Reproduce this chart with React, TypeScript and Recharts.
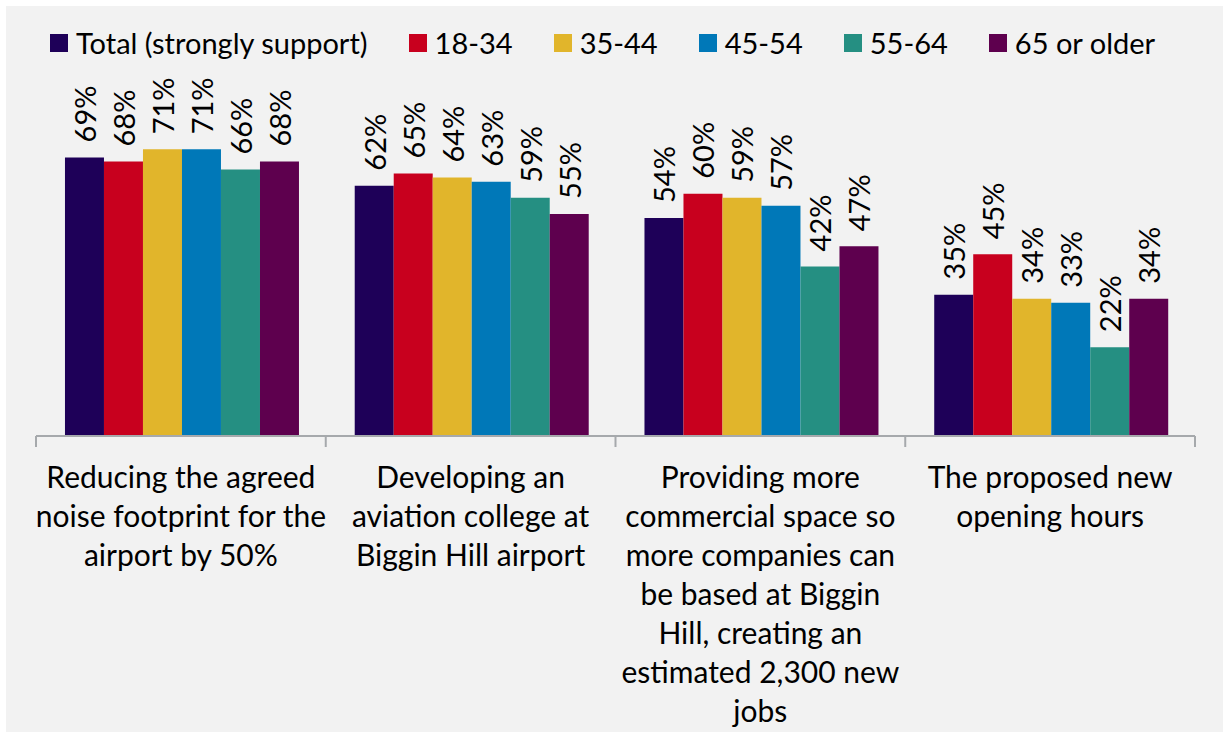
import React from 'react';
import { BarChart, Bar, XAxis, YAxis, Legend, LabelList } from 'recharts';

const categories = [
  'Reducing the agreed noise footprint for the airport by 50%',
  'Developing an aviation college at Biggin Hill airport',
  'Providing more commercial space so more companies can be based at Biggin Hill, creating an estimated 2,300 new jobs',
  'The proposed new opening hours',
];
const categoryLines = [
  ['Reducing the agreed', 'noise footprint for the', 'airport by 50%'],
  ['Developing an', 'aviation college at', 'Biggin Hill airport'],
  ['Providing more', 'commercial space so', 'more companies can', 'be based at Biggin', 'Hill, creating an', 'estimated 2,300 new', 'jobs'],
  ['The proposed new', 'opening hours'],
];
const seriesKeys = ['total', 'a1834', 'a3544', 'a4554', 'a5564', 'a65'];
const seriesNames = ['Total (strongly support)', '18-34', '35-44', '45-54', '55-64', '65 or older'];
const seriesColors = ['#1e0058', '#c8001e', '#e1b52b', '#0078b8', '#258f82', '#5e004e'];
const total = [69, 62, 54, 35];
const age1834 = [68, 65, 60, 45];
const age3544 = [71, 64, 59, 34];
const age4554 = [71, 63, 57, 33];
const age5564 = [66, 59, 42, 22];
const age65 = [68, 55, 47, 34];
const seriesValues = [total, age1834, age3544, age4554, age5564, age65];

const data = categories.map((c, i) => {
  const row: Record<string, any> = { name: c, idx: i };
  seriesKeys.forEach((k, s) => { row[k] = seriesValues[s][i]; });
  return row;
});

const FONT = 'Lato, Carlito, "Liberation Sans", sans-serif';
const AXIS_COLOR = '#a6a9ac';

const CategoryTick = (props: any) => {
  const { x, y, payload, index } = props;
  const half = payload && payload.offset ? payload.offset : 144.875;
  const lines = categoryLines[index] || [];
  return (
    <g>
      <line x1={x - half} y1={y} x2={x - half} y2={y + 11} stroke={AXIS_COLOR} strokeWidth={2} />
      {index === categories.length - 1 && (
        <line x1={x + half} y1={y} x2={x + half} y2={y + 11} stroke={AXIS_COLOR} strokeWidth={2} />
      )}
      <text x={x} y={y + 52} textAnchor="middle" fill="#000" fontSize={30} fontFamily={FONT}>
        {lines.map((l, i) => (
          <tspan key={i} x={x} dy={i === 0 ? 0 : 39}>{l}</tspan>
        ))}
      </text>
    </g>
  );
};

const RotLabel = (props: any) => {
  const { x, y, width, value } = props;
  const cx = x + width / 2;
  const ty = y - 15;
  return (
    <text
      x={cx}
      y={ty}
      transform={`rotate(-90, ${cx}, ${ty})`}
      textAnchor="start"
      dominantBaseline="central"
      fill="#000"
      fontSize={29}
      fontFamily={FONT}
    >
      {value}%
    </text>
  );
};

const LegendContent = () => (
  <div style={{ display: 'flex', alignItems: 'center', fontFamily: FONT, fontSize: 29, color: '#000', whiteSpace: 'nowrap' }}>
    {seriesNames.map((n, i) => (
      <div key={n} style={{ display: 'flex', alignItems: 'center', marginRight: i === seriesNames.length - 1 ? 0 : 41 }}>
        <div style={{ width: 18, height: 18, background: seriesColors[i], marginRight: 8 }} />
        <span style={{ lineHeight: '36px' }}>{n}</span>
      </div>
    ))}
  </div>
);

export default function App() {
  return (
    <div style={{ position: 'absolute', left: 6, top: 6, width: 1217, height: 726, background: '#f2f2f2' }}>
      <BarChart
        width={1217}
        height={726}
        data={data}
        margin={{ top: 71, right: 28, left: 30, bottom: 0 }}
        barCategoryGap="10%"
        barGap={0}
      >
        <XAxis
          dataKey="name"
          height={296}
          tickLine={false}
          tickSize={0}
          tickMargin={0}
          interval={0}
          axisLine={{ stroke: AXIS_COLOR, strokeWidth: 2 }}
          tick={<CategoryTick />}
        />
        <YAxis hide domain={[0, 80]} />
        <Legend
          layout="vertical"
          align="center"
          verticalAlign="top"
          content={<LegendContent />}
          wrapperStyle={{ left: 44, top: 19, width: 'auto' }}
        />
        {seriesKeys.map((k, i) => (
          <Bar key={k} dataKey={k} name={seriesNames[i]} fill={seriesColors[i]} isAnimationActive={false}>
            <LabelList dataKey={k} content={<RotLabel />} />
          </Bar>
        ))}
      </BarChart>
    </div>
  );
}
